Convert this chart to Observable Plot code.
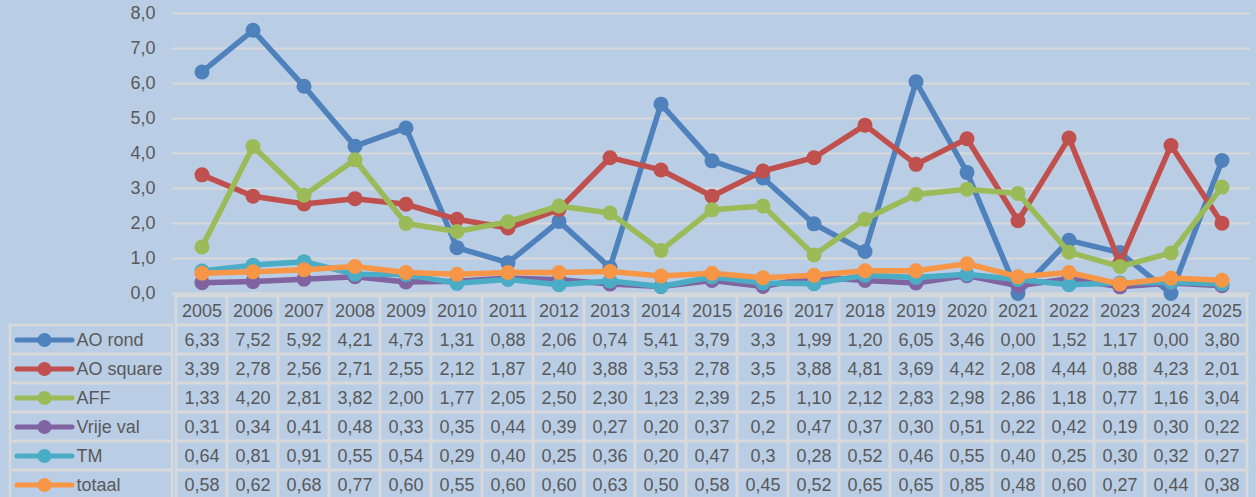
<!DOCTYPE html>
<html><head><meta charset="utf-8">
<script src="https://cdn.jsdelivr.net/npm/d3@7"></script>
<script src="https://cdn.jsdelivr.net/npm/@observablehq/plot@0.6"></script>
<style>
html,body{margin:0;padding:0;background:#b9cde5;overflow:hidden;width:1256px;height:497px}
#chart{position:relative;z-index:2;height:293px}
#table{display:flex;position:relative;z-index:1}
svg{overflow:visible !important}
</style></head><body>
<div id="chart"></div><div id="table"></div>
<script>
const years = ["2005","2006","2007","2008","2009","2010","2011","2012","2013","2014","2015","2016","2017","2018","2019","2020","2021","2022","2023","2024","2025"];
const seriesNames = ["AO rond","AO square","AFF","Vrije val","TM","totaal"];
const seriesColors = ["#4f81bd","#c0504d","#9bbb59","#8064a2","#4bacc6","#f79646"];
const aoRond   = ["6,33","7,52","5,92","4,21","4,73","1,31","0,88","2,06","0,74","5,41","3,79","3,3","1,99","1,20","6,05","3,46","0,00","1,52","1,17","0,00","3,80"];
const aoSquare = ["3,39","2,78","2,56","2,71","2,55","2,12","1,87","2,40","3,88","3,53","2,78","3,5","3,88","4,81","3,69","4,42","2,08","4,44","0,88","4,23","2,01"];
const aff      = ["1,33","4,20","2,81","3,82","2,00","1,77","2,05","2,50","2,30","1,23","2,39","2,5","1,10","2,12","2,83","2,98","2,86","1,18","0,77","1,16","3,04"];
const vrijeVal = ["0,31","0,34","0,41","0,48","0,33","0,35","0,44","0,39","0,27","0,20","0,37","0,2","0,47","0,37","0,30","0,51","0,22","0,42","0,19","0,30","0,22"];
const tm       = ["0,64","0,81","0,91","0,55","0,54","0,29","0,40","0,25","0,36","0,20","0,47","0,3","0,28","0,52","0,46","0,55","0,40","0,25","0,30","0,32","0,27"];
const totaal   = ["0,58","0,62","0,68","0,77","0,60","0,55","0,60","0,60","0,63","0,50","0,58","0,45","0,52","0,65","0,65","0,85","0,48","0,60","0,27","0,44","0,38"];
const yTicks = [0,1,2,3,4,5,6,7,8];

const seriesValues = [aoRond, aoSquare, aff, vrijeVal, tm, totaal];
const data = [];
seriesNames.forEach((s, i) => seriesValues[i].forEach((v, j) => data.push({series: s, year: years[j], value: +v.replace(",", "."), label: v})));

const font = "'Liberation Sans', Arial, sans-serif";
const fs = 18;
const textColor = "#595959";
const gridColor = "#d9d9d9";

const lineMarks = [];
seriesNames.forEach(s => {
  const d = data.filter(r => r.series === s);
  lineMarks.push(Plot.line(d, {x: "year", y: "value", stroke: "series", strokeWidth: 5.5, strokeLinejoin: "round", strokeLinecap: "round"}));
  lineMarks.push(Plot.dot(d, {x: "year", y: "value", fill: "series", r: 7.5}));
});

const chart = Plot.plot({
  width: 1256, height: 293, marginTop: 13, marginBottom: 0, marginLeft: 172, marginRight: 6,
  style: {background: "transparent", fontFamily: font, fontSize: fs + "px", color: textColor, overflow: "visible"},
  x: {type: "band", domain: years, padding: 0, axis: null},
  y: {domain: [0, 8], ticks: yTicks, tickSize: 0, tickPadding: 17, label: null, tickFormat: d => d.toFixed(1).replace(".", ",")},
  color: {domain: seriesNames, range: seriesColors},
  marks: [
    Plot.ruleY(yTicks, {stroke: gridColor, strokeWidth: 2}),
    ...lineMarks
  ]
});
chart.querySelectorAll("text").forEach(t => { t.setAttribute("font-size", fs); t.setAttribute("fill", textColor); });
document.getElementById("chart").appendChild(chart);

const rows = ["", ...seriesNames];
const colorOf = Object.fromEntries(seriesNames.map((s, i) => [s, seriesColors[i]]));

const legend = Plot.plot({
  width: 172, height: 208, marginTop: 0, marginBottom: 0, marginLeft: 10, marginRight: 0,
  style: {background: "transparent", fontFamily: font, fontSize: fs + "px", overflow: "visible"},
  y: {type: "band", domain: rows, padding: 0, axis: null},
  marks: [
    Plot.cell(seriesNames, {y: d => d, stroke: gridColor, strokeWidth: 2.5, fill: "none"}),
    Plot.tickY(seriesNames, {y: d => d, stroke: d => colorOf[d], strokeWidth: 5, insetLeft: 7, insetRight: 100, strokeLinecap: "round"}),
    Plot.dot(seriesNames, {y: d => d, frameAnchor: "left", dx: 34, r: 7, fill: d => colorOf[d]}),
    Plot.text(seriesNames, {y: d => d, text: d => d, frameAnchor: "left", dx: 66, textAnchor: "start", fontSize: fs, fill: textColor})
  ]
});

const cells = [...years.map(y => ({year: y, row: "", label: y})), ...data.map(d => ({year: d.year, row: d.series, label: d.label}))];
const table = Plot.plot({
  width: 1084, height: 208, marginTop: 0, marginBottom: 0, marginLeft: 0, marginRight: 6,
  style: {background: "transparent", fontFamily: font, fontSize: fs + "px", overflow: "visible"},
  x: {type: "band", domain: years, padding: 0, axis: null},
  y: {type: "band", domain: rows, padding: 0, axis: null},
  marks: [
    Plot.cell(cells, {x: "year", y: "row", stroke: gridColor, strokeWidth: 2.5, fill: "none"}),
    Plot.text(cells, {x: "year", y: "row", text: "label", fontSize: fs, fill: textColor})
  ]
});
document.getElementById("table").appendChild(legend);
document.getElementById("table").appendChild(table);
</script>
</body></html>
